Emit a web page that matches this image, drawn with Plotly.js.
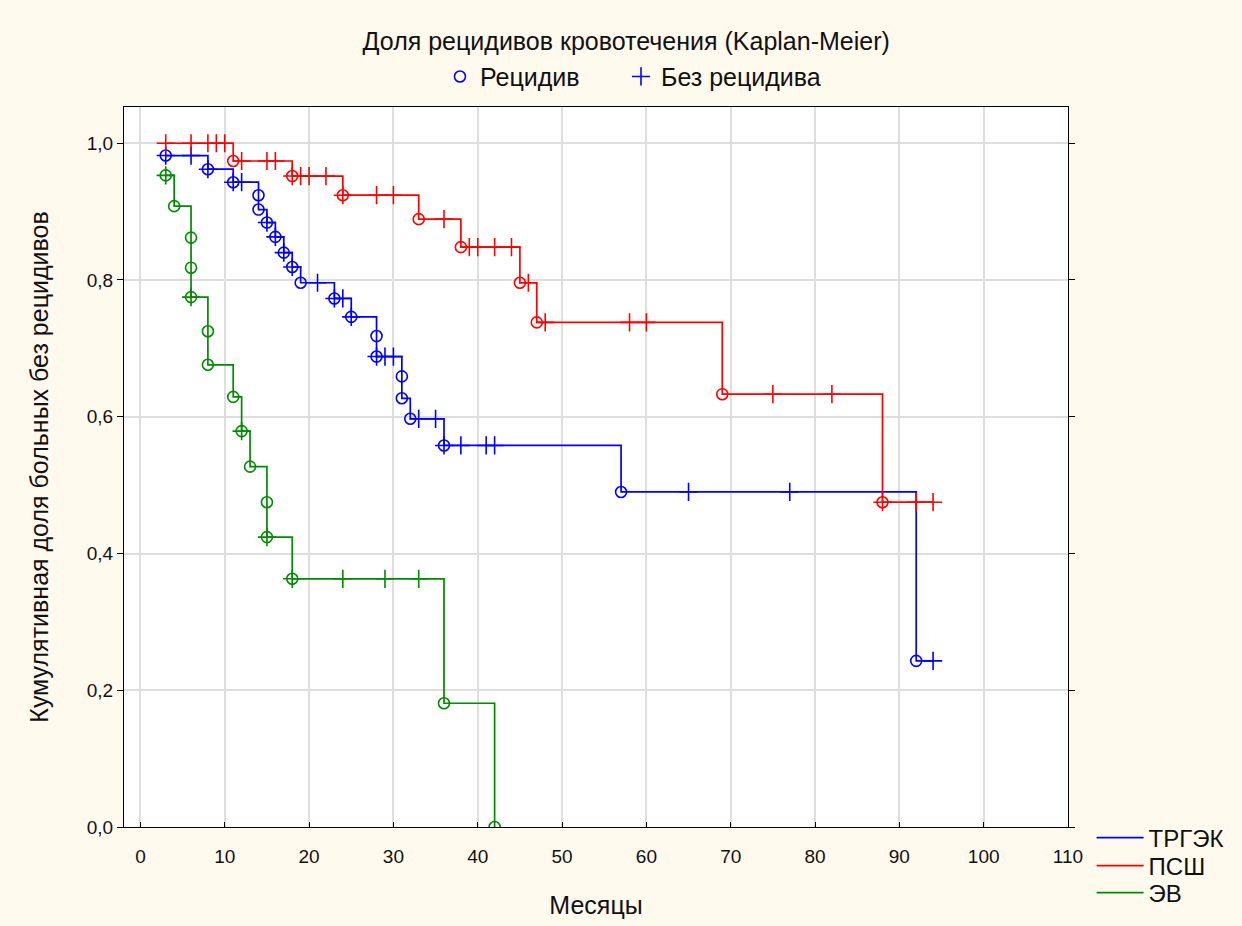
<!DOCTYPE html>
<html>
<head>
<meta charset="utf-8">
<script src="https://cdn.plot.ly/plotly-3.0.1.min.js"></script>
<style>html,body{margin:0;padding:0;background:#fff9ee;}#chart{width:1242px;height:926px;}</style>
</head>
<body>
<div id="chart"></div>
<script>
// ТРГЭК (blue)
const trgekEventT = [3, 8, 11, 14, 14, 15, 16, 17, 18, 19, 23, 25, 28, 28, 31, 31, 32, 36, 57, 92];
const trgekEventS = [0.982, 0.962, 0.943, 0.924, 0.903, 0.884, 0.863, 0.840, 0.819, 0.796, 0.773, 0.746, 0.718, 0.688, 0.659, 0.627, 0.597, 0.558, 0.490, 0.243];
const trgekCensT = [3, 6, 8, 11, 12, 15, 16, 17, 18, 21, 23, 24, 25, 28, 29, 30, 33, 35, 36, 38, 41, 42, 65, 77, 94];
const trgekCensS = [0.982, 0.982, 0.962, 0.943, 0.943, 0.884, 0.863, 0.840, 0.819, 0.796, 0.773, 0.773, 0.746, 0.688, 0.688, 0.688, 0.597, 0.597, 0.558, 0.558, 0.558, 0.558, 0.490, 0.490, 0.243];

// ПСШ (red)
const pshEventT = [11, 18, 24, 33, 38, 45, 47, 69, 88];
const pshEventS = [0.974, 0.952, 0.924, 0.889, 0.848, 0.796, 0.738, 0.633, 0.475];
const pshCensT = [3, 6, 8, 9, 10, 12, 15, 16, 18, 19, 20, 22, 24, 28, 30, 36, 39, 40, 42, 44, 46, 48, 58, 60, 75, 82, 88, 92, 94];
const pshCensS = [1, 1, 1, 1, 1, 0.974, 0.974, 0.974, 0.952, 0.952, 0.952, 0.952, 0.924, 0.924, 0.924, 0.889, 0.848, 0.848, 0.848, 0.848, 0.796, 0.738, 0.738, 0.738, 0.633, 0.633, 0.475, 0.475, 0.475];

// ЭВ (green)
const evEventT = [3, 4, 6, 6, 6, 8, 8, 11, 12, 13, 15, 15, 18, 36, 42];
const evEventS = [0.953, 0.908, 0.862, 0.818, 0.775, 0.725, 0.676, 0.629, 0.579, 0.527, 0.475, 0.424, 0.363, 0.181, 0.0];
const evCensT = [3, 6, 12, 15, 18, 24, 29, 33];
const evCensS = [0.953, 0.775, 0.579, 0.424, 0.363, 0.363, 0.363, 0.363];

const groupNames = ['ТРГЭК', 'ПСШ', 'ЭВ'];
const groupColors = ['#0000ff', '#ff0000', '#008a00'];
const markerNames = ['Рецидив', 'Без рецидива'];
const titleText = 'Доля рецидивов кровотечения (Kaplan-Meier)';
const xTitle = 'Месяцы';
const yTitle = 'Кумулятивная доля больных без рецидивов';

const groups = [
  [trgekEventT, trgekEventS, trgekCensT, trgekCensS],
  [pshEventT, pshEventS, pshCensT, pshCensS],
  [evEventT, evEventS, evCensT, evCensS]
];
const lineLegends = ['legend2', 'legend4', 'legend5'];

const traces = [];
groups.forEach((g, i) => {
  const pts = [];
  g[0].forEach((t, k) => pts.push([t, g[1][k]]));
  g[2].forEach((t, k) => pts.push([t, g[3][k]]));
  pts.sort((a, b) => a[0] - b[0] || b[1] - a[1]);
  traces.push({
    x: pts.map(p => p[0]), y: pts.map(p => p[1]),
    type: 'scatter', mode: 'lines', line: {shape: 'hv', color: groupColors[i], width: 1.7},
    name: groupNames[i], legend: lineLegends[i], hoverinfo: 'skip'
  });
});
groups.forEach((g, i) => {
  traces.push({
    x: g[0], y: g[1], type: 'scatter', mode: 'markers',
    marker: {symbol: 'circle-open', size: 11, color: groupColors[i], line: {width: 1.6, color: groupColors[i]}},
    name: markerNames[0], showlegend: i === 0, legend: 'legend'
  });
  traces.push({
    x: g[2], y: g[3], type: 'scatter', mode: 'markers',
    marker: {symbol: 'cross-thin-open', size: 13, color: groupColors[i], line: {width: 1.6, color: groupColors[i]}},
    name: markerNames[1], showlegend: i === 0, legend: 'legend3'
  });
});

const fam = 'Arial, "Liberation Sans", sans-serif';
const topLegend = {
  orientation: 'h', xanchor: 'left', y: 1.042, yanchor: 'middle',
  bgcolor: 'rgba(0,0,0,0)', font: {family: fam, size: 25, color: '#111'}
};
const sideLegend = {
  x: 1.025, xanchor: 'left', yanchor: 'middle', itemwidth: 47,
  bgcolor: 'rgba(0,0,0,0)', font: {family: fam, size: 24, color: '#111'}
};
const layout = {
  width: 1242, height: 926,
  paper_bgcolor: '#fff9ee', plot_bgcolor: '#ffffff',
  separators: ', ',
  font: {family: fam, size: 18, color: '#111'},
  margin: {l: 124, r: 174, t: 107, b: 98},
  title: {text: titleText, font: {family: fam, size: 25, color: '#111'}, xref: 'paper', x: 0.532, xanchor: 'center', yref: 'container', y: 0.955, yanchor: 'middle'},
  xaxis: {
    range: [-1.95, 110], tickvals: [0,10,20,30,40,50,60,70,80,90,100,110],
    showgrid: true, gridcolor: '#dedede', gridwidth: 2, zeroline: false,
    showline: true, linecolor: '#000', linewidth: 1, mirror: true,
    ticks: 'inside', ticklen: 5, tickcolor: '#000', ticklabelstandoff: 12,
    automargin: false,
    title: {text: xTitle, font: {family: fam, size: 25, color: '#111'}, standoff: 30},
    tickfont: {size: 19}
  },
  yaxis: {
    range: [0, 1.053], tickvals: [0, 0.2, 0.4, 0.6, 0.8, 1.0], tickformat: '.1f',
    showgrid: true, gridcolor: '#dedede', gridwidth: 2, zeroline: false,
    showline: true, linecolor: '#000', linewidth: 1, mirror: 'ticks',
    ticks: 'outside', ticklen: 6, tickcolor: '#000',
    automargin: true,
    title: {text: yTitle, font: {family: fam, size: 25, color: '#111'}, standoff: 31},
    tickfont: {size: 19}
  },
  legend: Object.assign({}, topLegend, {x: 0.3347}),
  legend3: Object.assign({}, topLegend, {x: 0.5265}),
  legend2: Object.assign({}, sideLegend, {y: -0.0139}),
  legend4: Object.assign({}, sideLegend, {y: -0.0527}),
  legend5: Object.assign({}, sideLegend, {y: -0.0902}),
  showlegend: true
};

Plotly.newPlot('chart', traces, layout, {displayModeBar: false, staticPlot: true});
</script>
</body>
</html>
